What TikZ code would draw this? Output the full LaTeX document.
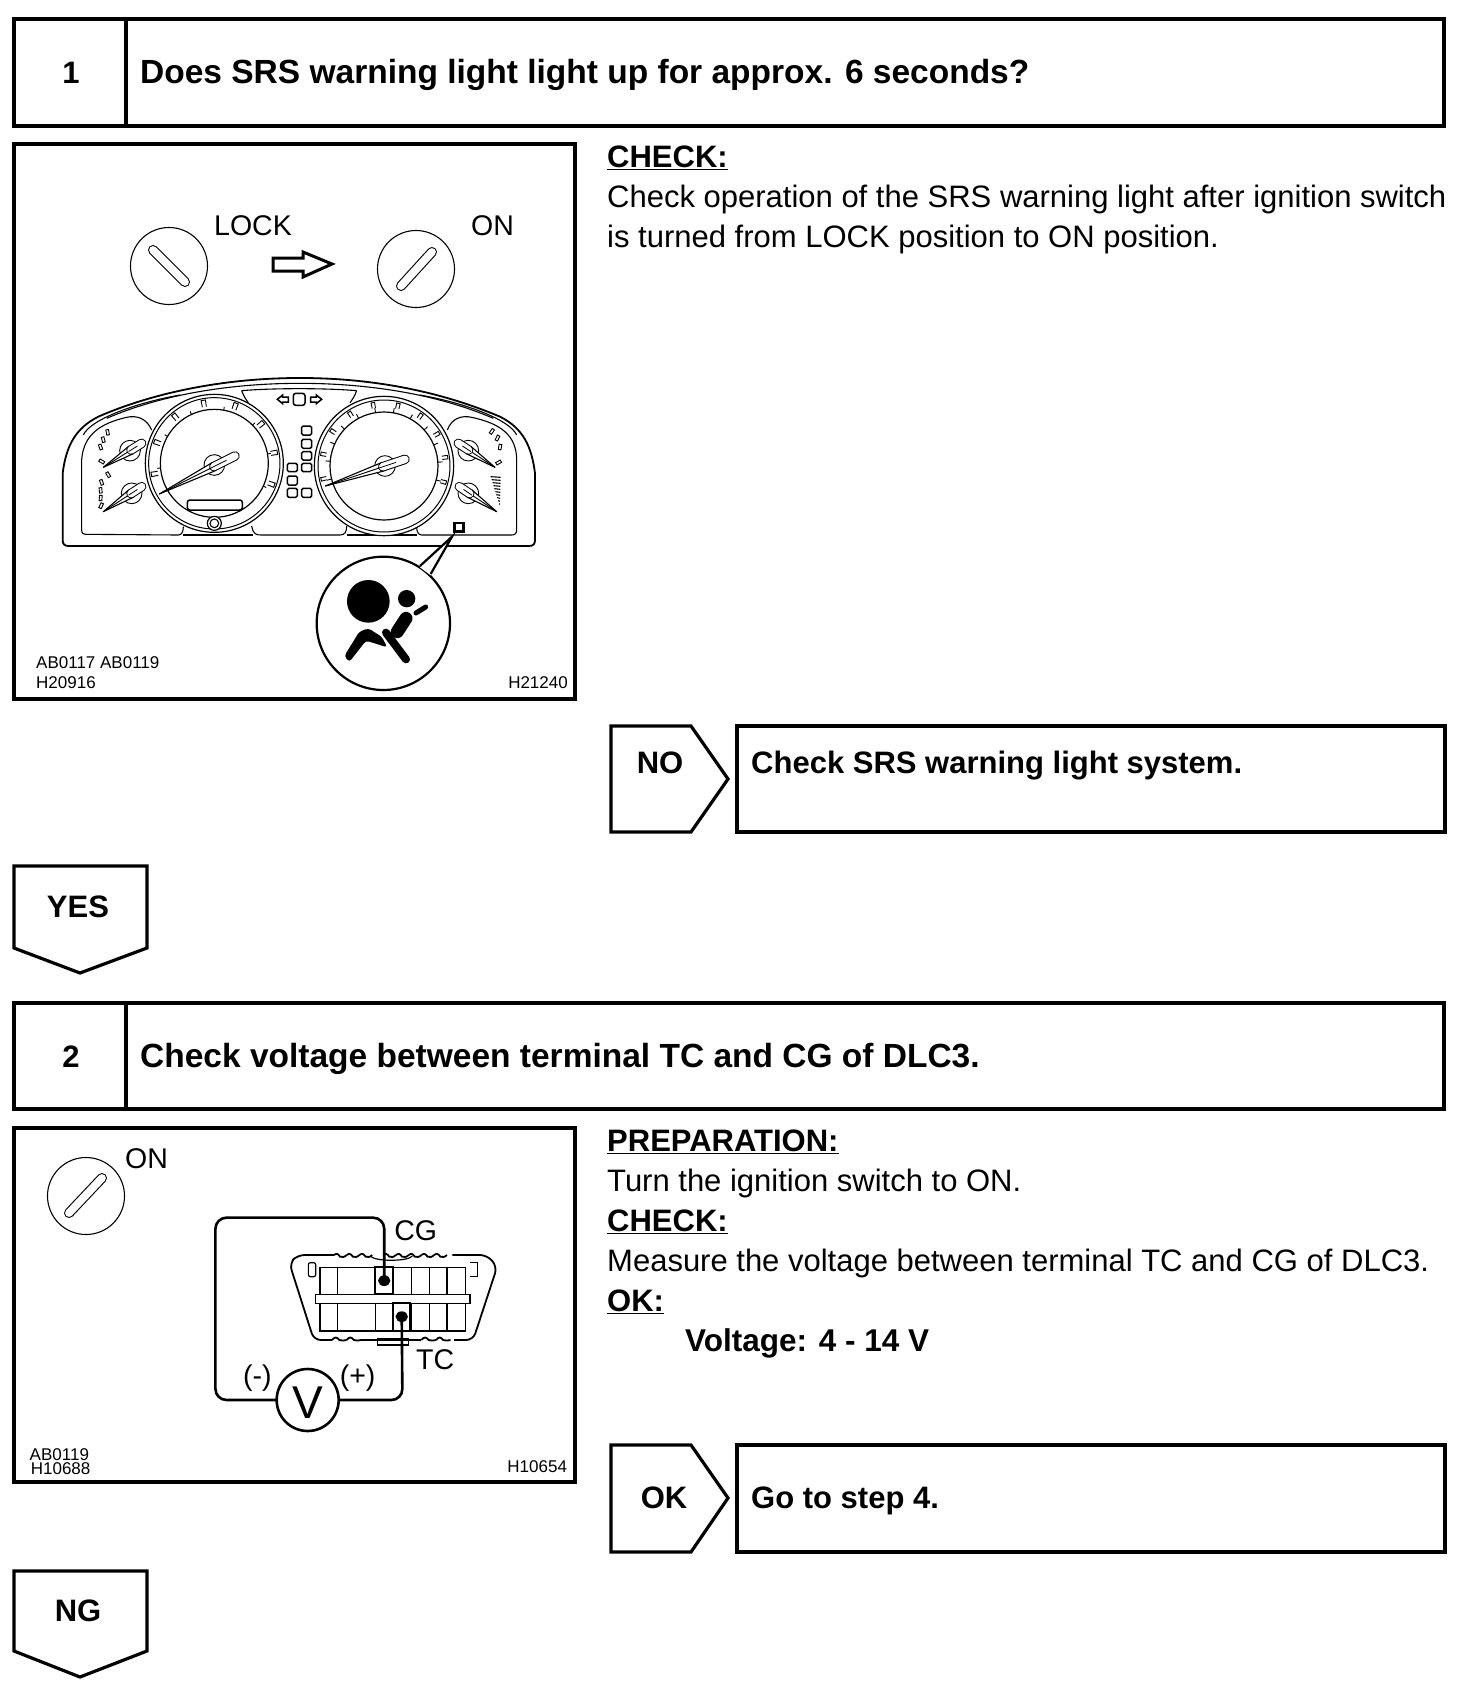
\documentclass[tikz,border=0pt]{standalone}
\usepackage{fontspec}
\setmainfont{Liberation Sans}
\usetikzlibrary{calc}
\newcommand{\bodyf}{\fontsize{31}{36}\selectfont}
\newcommand{\boldf}{\fontsize{31}{36}\selectfont\bfseries}
\newcommand{\titlef}{\fontsize{33.5}{36}\selectfont\bfseries}
\newcommand{\lblf}{\fontsize{28.5}{32}\selectfont}
\newcommand{\codef}{\fontsize{17}{18}\selectfont}
\tikzset{
 frame/.style={draw=black,line width=3.2pt,line join=miter},
 thin line/.style={draw=black,line width=1.1pt},
 wire/.style={draw=black,line width=2.6pt,rounded corners=11pt},
 body/.style={anchor=base west,inner sep=0pt,font=\bodyf},
 bold/.style={anchor=base west,inner sep=0pt,font=\boldf},
 title/.style={anchor=base west,inner sep=0pt,font=\titlef},
 boldc/.style={anchor=base,inner sep=0pt,font=\boldf},
 lbl/.style={anchor=base west,inner sep=0pt,font=\lblf},
 code/.style={anchor=base west,inner sep=0pt,font=\codef},
 coder/.style={anchor=base east,inner sep=0pt,font=\codef},
}
\newcommand{\ignition}[4]{%
 \draw[thin line] (#1,#2) circle[radius=38.5pt];
 \draw[black,line width=10pt,line cap=round] (#3) -- (#4);
 \draw[white,line width=7.8pt,line cap=round] (#3) -- (#4);
}
% boxed ticks: cx cy r1 r2 from step to halfwidth(deg)
\newcommand{\boxticks}[8]{%
 \foreach \a in {#5,#6,...,#7}{\draw[black,line width=.9pt]
  ({#1+#3*cos(\a-#8)},{#2-#3*sin(\a-#8)}) -- ({#1+#4*cos(\a-#8)},{#2-#4*sin(\a-#8)}) --
  ({#1+#4*cos(\a+#8)},{#2-#4*sin(\a+#8)}) -- ({#1+#3*cos(\a+#8)},{#2-#3*sin(\a+#8)});}
}
\newcommand{\tickring}[7]{%
 \foreach \a in {#5,#6,...,#7}{\draw[black,line width=.9pt] ({#1+#3*cos(\a)},{#2-#3*sin(\a)}) -- ({#1+#4*cos(\a)},{#2-#4*sin(\a)});}
}
% tipx tipy tailx taily hubx huby
\newcommand{\needle}[6]{%
 \draw[black,line width=.9pt,fill=white] (#5,#6) circle[radius=31pt];
 \coordinate (nb) at ($(#1,#2)!.72!(#3,#4)$);
 \draw[black,line width=1.1pt,fill=white,line join=round] (#1,#2) -- ($(nb)!13pt!90:(#3,#4)$) -- ($(nb)!13pt!-90:(#3,#4)$) -- cycle;
 \draw[black,line width=.9pt] (#1,#2) -- (nb);
 \draw[black,line width=9.5pt,line cap=round] (nb) -- (#3,#4);
 \draw[white,line width=7.5pt,line cap=round] (nb) -- (#3,#4);
 \draw[black,line width=.8pt] ($(nb)!-.22!(#3,#4)$) -- ($(nb)!.6!(#3,#4)$);
}
\begin{document}
\begin{tikzpicture}[x=1pt,y=-1pt]
\useasboundingbox (0,0) rectangle (1472,1694);
\fill[white] (0,0) rectangle (1472,1694);
% ---- step 1 ----
\draw[frame] (14,19) rectangle (1444,126);
\draw[frame] (126,19) -- (126,126);
\node[boldc] (n1) at (71,83) {1};
\node[title] (t1) at (140,83) {Does SRS warning light light up for approx. 6 seconds?};
\draw[frame] (14,144) rectangle (575,699);
\coordinate (s1a) at (153,250); \coordinate (s1b) at (185,282);
\coordinate (s2a) at (401,286); \coordinate (s2b) at (432,252);
\ignition{169}{266}{s1a}{s1b}
\ignition{416}{269}{s2a}{s2b}
\node[lbl] (lock) at (214,235) {LOCK};
\node[lbl] (on1) at (471,235) {ON};
\draw[black,line width=3pt,fill=white] (273,258) -- (303,258) -- (303,252) -- (332,264) -- (303,277) -- (303,271) -- (273,271) -- cycle;
% cluster
\begin{scope}[shift={(40,360)},xscale=1/3,yscale=1/3]
 \draw[black,line width=1.8pt,line join=round] (780,54) .. controls (1050,54) and (1250,115) .. (1380,170) .. controls (1450,205) and (1475,260) .. (1485,340) -- (1485,540) .. controls (1485,552) and (1480,558) .. (1467,558) -- (86,558) .. controls (73,558) and (68,552) .. (68,540) -- (68,340) .. controls (78,260) and (105,205) .. (175,170) .. controls (300,115) and (510,54) .. (780,54) -- cycle;
 \draw[black,line width=1.1pt] (200,175) .. controls (350,110) and (550,70) .. (780,70) .. controls (1010,70) and (1210,110) .. (1360,175);
 \draw[black,line width=1.1pt] (130,225) .. controls (150,180) and (280,130) .. (420,105);
 \draw[black,line width=1.1pt] (1430,225) .. controls (1410,180) and (1280,130) .. (1140,105);
 \draw[black,line width=1.1pt] (335,210) .. controls (320,175) and (290,165) .. (260,172) .. controls (180,190) and (130,225) .. (125,300) -- (125,510) .. controls (125,520) and (130,523) .. (140,523) -- (415,525) .. controls (425,525) and (430,515) .. (430,500);
 \draw[black,line width=1.1pt] (1222,210) .. controls (1235,175) and (1265,165) .. (1295,172) .. controls (1380,190) and (1430,225) .. (1430,300) -- (1430,510) .. controls (1430,520) and (1425,525) .. (1415,525) -- (1145,525) .. controls (1135,525) and (1130,515) .. (1130,500);
 \draw[black,line width=1.1pt] (635,498) .. controls (640,525) and (650,525) .. (665,525) -- (900,525) .. controls (915,525) and (920,515) .. (920,498);
 \draw[black,line width=1.1pt] (430,525) -- (640,525) (920,525) -- (1130,525);
 \draw[black,line width=1.1pt] (605,92) .. controls (700,84) and (855,84) .. (950,92) (605,92) .. controls (610,105) and (615,115) .. (625,128) (950,92) .. controls (945,105) and (940,115) .. (930,128);
 % speedo left
 \draw[black,line width=1.2pt,fill=white] (523,310) circle[radius=207pt];
 \draw[black,line width=1pt] (523,310) circle[radius=197pt];
 \draw[black,line width=1.2pt] (523,310) circle[radius=162pt];
 \boxticks{523}{310}{172}{192}{-20}{10}{200}{2}
 \tickring{523}{310}{162}{172}{-25}{10}{205}
 \draw[black,line width=1.5pt,rounded corners=2.5pt] (442,420) rectangle (607,450);
 \draw[black,line width=1.2pt,fill=white] (523,490) circle[radius=21pt];
 \draw[black,line width=1.1pt] (523,490) circle[radius=13pt];
 % speedo right
 \draw[black,line width=1.2pt,fill=white] (1032,318) circle[radius=209pt];
 \draw[black,line width=1pt] (1032,318) circle[radius=198pt];
 \draw[black,line width=1.2pt] (1032,318) circle[radius=162pt];
 \boxticks{1032}{318}{176}{193}{-15}{8}{195}{1.6}
 \tickring{1032}{318}{162}{176}{-15}{4}{195}
 % needles
 \needle{358}{402}{585}{288}{523}{315}
 \needle{856}{378}{1095}{298}{1035}{318}
 \needle{190}{322}{305}{250}{270}{272}
 \needle{190}{455}{305}{380}{275}{400}
 \needle{1365}{322}{1255}{250}{1285}{272}
 \needle{1370}{455}{1258}{380}{1285}{400}
 % small dial marks
 \foreach \p/\r in {(203,218)/10,(190,240)/15,(182,262)/20,(186,305)/60,(205,345)/30,(185,368)/20,(182,392)/5,(182,415)/-5,(183,438)/-25}{\draw[black,line width=.9pt,rotate around={\r:\p}] \p ++(-4,-9) rectangle ++(8,16);}
 \foreach \p/\r in {(1355,215)/-35,(1372,235)/-25,(1380,262)/-10,(1375,308)/-60}{\draw[black,line width=.9pt,rotate around={\r:\p}] \p ++(-4,-9) rectangle ++(8,16);}
 \foreach \t in {0,1,...,9}{\draw[black,line width=1.1pt] ({1352+\t*2.8},{350+\t*9}) -- ({1382-\t*.2},{352+\t*9});}
 % telltales
 \foreach \xa/\ya/\xb/\yb in {785/198/815/225,785/238/815/265,785/275/815/300,785/310/815/335,785/385/815/412,742/310/772/335,742/348/772/375,742/385/772/412}{
  \draw[black,line width=1.5pt,rounded corners=1.5pt] (\xa,\ya) rectangle (\xb,\yb);}
 \draw[black,line width=1.5pt,rounded corners=2.5pt] (760,100) rectangle (795,136);
 \draw[black,line width=1.5pt] (712,118) -- (728,105) -- (728,111) -- (745,111) -- (745,126) -- (728,126) -- (728,131) -- cycle;
 \draw[black,line width=1.5pt] (845,118) -- (829,105) -- (829,111) -- (812,111) -- (812,126) -- (829,126) -- (829,131) -- cycle;
 % indicator and callout
 \draw[black,line width=2.4pt] (1244,489) rectangle (1270,515);
 \draw[black,line width=2.2pt,fill=white] (1030,790) circle[radius=200pt];
 \fill[white] (1140,622) -- (1236,530) -- (1172,646) -- cycle;
 \draw[black,line width=2.2pt,line join=miter] (1140,618) -- (1236,530) -- (1172,642);
 \fill[black] (985,724) circle[radius=64pt];
 \fill[black] (1100,716) circle[radius=26pt];
 \draw[black,line width=5pt,line cap=round] (1128,759) -- (1157,741);
 \draw[black,line width=13pt,line cap=round] (1098,775) -- (1072,815);
 \draw[black,line width=8pt,line cap=round] (1038,818) -- (1098,898);
 \fill[black,rounded corners=3pt] (913,888) -- (928,906) -- (978,842) -- (1042,862) -- (1025,830) -- (985,805) -- (958,815) -- cycle;
\end{scope}
\node[code] (c1) at (36,668) {AB0117 AB0119};
\node[code] (c2) at (36,688) {H20916};
\node[coder] (c3) at (568,688) {H21240};
% text right 1
\node[bold] (b1) at (607,167) {\underline{CHECK:}};
\node[body] (b2) at (607,207) {Check operation of the SRS warning light after ignition switch};
\node[body] (b3) at (607,247) {is turned from LOCK position to ON position.};
% NO branch
\draw[frame] (611,726) -- (691,726) -- (728,779) -- (691,832) -- (611,832) -- cycle;
\node[boldc] (no) at (660,773) {NO};
\draw[frame] (737,726) rectangle (1445,832);
\node[bold] (nt) at (751,773) {Check SRS warning light system.};
% YES
\draw[frame] (14,866) -- (147,866) -- (147,948) -- (80,973) -- (14,948) -- cycle;
\node[boldc] (yes) at (78,917) {YES};
% ---- step 2 ----
\draw[frame] (14,1003) rectangle (1444,1109);
\draw[frame] (126,1003) -- (126,1109);
\node[boldc] (n2) at (71,1067) {2};
\node[title] (t2) at (140,1067) {Check voltage between terminal TC and CG of DLC3.};
\draw[frame] (14,1128) rectangle (575,1482);
\coordinate (s3a) at (69,1213); \coordinate (s3b) at (102,1178);
\ignition{86}{1196}{s3a}{s3b}
\node[lbl] (on2) at (125,1168) {ON};
\begin{scope}[shift={(9.5,1120)},xscale=.3645,yscale=1/3]
 % connector body
 \draw[black,line width=1.8pt,rounded corners=7pt] (890,405) -- (790,405) -- (768,430) -- (835,660) -- (885,660);
 \draw[black,line width=1.8pt,rounded corners=7pt] (1215,405) -- (1310,405) -- (1338,440) -- (1272,660) -- (1220,660);
 \foreach \x in {890,925,960,1025,1060,1095,1130,1165}{\draw[black,line width=1.8pt] (\x,405) .. controls (\x+8,400) and (\x+10,400) .. (\x+17,410) .. controls (\x+24,412) and (\x+28,412) .. (\x+35,405);}
 \foreach \x in {885,925,1130,1170}{\draw[black,line width=1.8pt] (\x,660) .. controls (\x+8,650) and (\x+12,650) .. (\x+20,660) .. controls (\x+26,662) and (\x+30,662) .. (\x+40,660);}
 \draw[black,line width=1.1pt] (965,660) -- (1130,660);
 \draw[black,line width=1.2pt] (990,408) .. controls (1000,425) and (1095,425) .. (1105,408);
 \draw[black,line width=1.5pt] (1010,655) rectangle (1095,675);
 \draw[black,line width=1.2pt,rounded corners=2pt] (820,428) rectangle (840,470);
 \draw[black,line width=1.2pt] (1262,428) -- (1285,428) -- (1285,470) -- (1262,470);
 \draw[black,line width=1.2pt] (852,443) rectangle (1250,523);
 \draw[black,line width=1.2pt] (852,550) rectangle (1250,633);
 \draw[black,line width=1.3pt] (840,523) rectangle (1263,550);
 \foreach \x in {900,1102,1152,1200}{\draw[black,line width=1.2pt] (\x,443) -- (\x,523) (\x,550) -- (\x,633);}
 \draw[black,line width=1.2pt] (1005,550) -- (1005,633);
 \draw[black,line width=2pt] (1002,440) rectangle (1052,522);
 \draw[black,line width=2pt] (1052,548) rectangle (1100,633);
 \coordinate (cgpin) at (1028,482);
 \coordinate (tcpin) at (1076,590);
 \node[inner sep=0pt,minimum size=0pt] (vm) at (818,840) {};
 \coordinate (vl) at (733,840);
 \coordinate (vr) at (903,840);
 \draw[wire] (cgpin) -- (1028,293) -- (565,293) -- (565,840) -- (vl);
 \draw[wire] (vr) -- (1078,840) -- (tcpin);
 \fill[black] (cgpin) ellipse[x radius=17pt,y radius=16pt];
 \fill[black] (tcpin) ellipse[x radius=17pt,y radius=16pt];
 \node[lbl] (cg) at (1055,360) {CG};
 \node[lbl] (tc) at (1115,748) {TC};
 \node[lbl,anchor=base] (minus) at (680,795) {(-)};
 \node[lbl,anchor=base] (plus) at (955,795) {(+)};
 \node[code] (d1) at (55,1020) {AB0119};
 \node[code] (d2) at (58,1062) {H10688};
 \node[coder] (d3) at (1530,1058) {H10654};
\end{scope}
\draw[black,line width=2.6pt] (vm.center) circle[radius=31pt];
\node[inner sep=0pt,anchor=base,font=\fontsize{46}{46}\selectfont] (vtxt) at (vm.center |- 0,1418) {V};
% text right 2
\node[bold] (p1) at (607,1151) {\underline{PREPARATION:}};
\node[body] (p2) at (607,1191) {Turn the ignition switch to ON.};
\node[bold] (p3) at (607,1231) {\underline{CHECK:}};
\node[body] (p4) at (607,1271) {Measure the voltage between terminal TC and CG of DLC3.};
\node[bold] (p5) at (607,1311) {\underline{OK:}};
\node[bold,font=\fontsize{31.5}{36}\selectfont\bfseries] (p6) at (685,1351) {Voltage: 4 - 14 V};
% OK branch
\draw[frame] (611,1445) -- (691,1445) -- (728,1498) -- (691,1552) -- (611,1552) -- cycle;
\node[boldc] (ok) at (664,1508) {OK};
\draw[frame] (737,1445) rectangle (1445,1552);
\node[bold] (gt) at (751,1508) {Go to step 4.};
% NG
\draw[frame] (14,1571) -- (147,1571) -- (147,1651) -- (80,1677) -- (14,1651) -- cycle;
\node[boldc] (ng) at (78,1621) {NG};
\end{tikzpicture}
\end{document}
